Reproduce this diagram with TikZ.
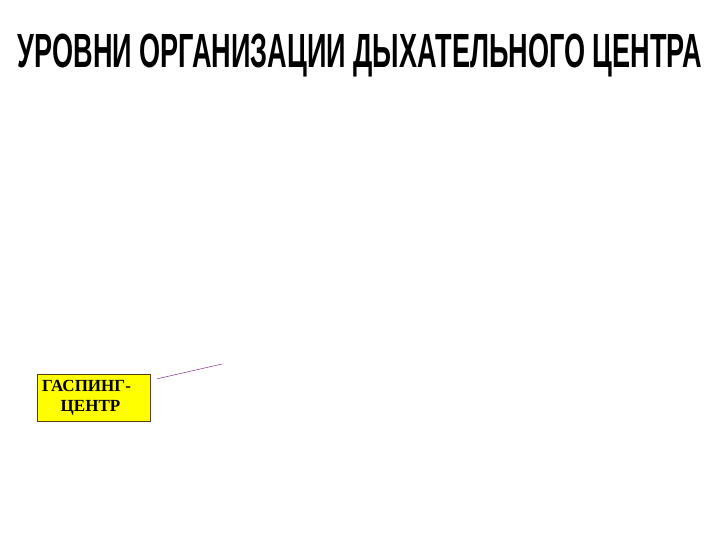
\documentclass[tikz,border=0pt]{standalone}
\usepackage{fontspec}
\setmainfont{Liberation Serif}
\newfontfamily\titlefont{Liberation Sans}
\usetikzlibrary{positioning}

\definecolor{boxyellow}{RGB}{255,255,0}
\definecolor{boxedge}{RGB}{100,60,20}
\definecolor{linkviolet}{RGB}{100,10,110}

\begin{document}
\begin{tikzpicture}[x=1pt, y=-1pt]

    \useasboundingbox (0,0) rectangle (720,540);

    % title
    \node[inner sep=0pt, xscale=0.564] (title) at (360,56)
        {\titlefont\fontsize{48}{48}\selectfont\bfseries УРОВНИ ОРГАНИЗАЦИИ ДЫХАТЕЛЬНОГО ЦЕНТРА};

    % gasping centre
    \node[draw=boxedge, fill=boxyellow, minimum width=113pt, minimum height=47pt,
          inner sep=0pt, align=center, font=\fontsize{17}{20}\selectfont\bfseries] (gasp) at (93.5,397.5)
        {ГАСПИНГ-\hspace*{14pt}\\ЦЕНТР\hspace*{6pt}};

    \coordinate (gaspend) at (222,364);
    \draw[linkviolet, thin] ([shift={(7,5)}]gasp.north east) -- (gaspend);

\end{tikzpicture}
\end{document}
